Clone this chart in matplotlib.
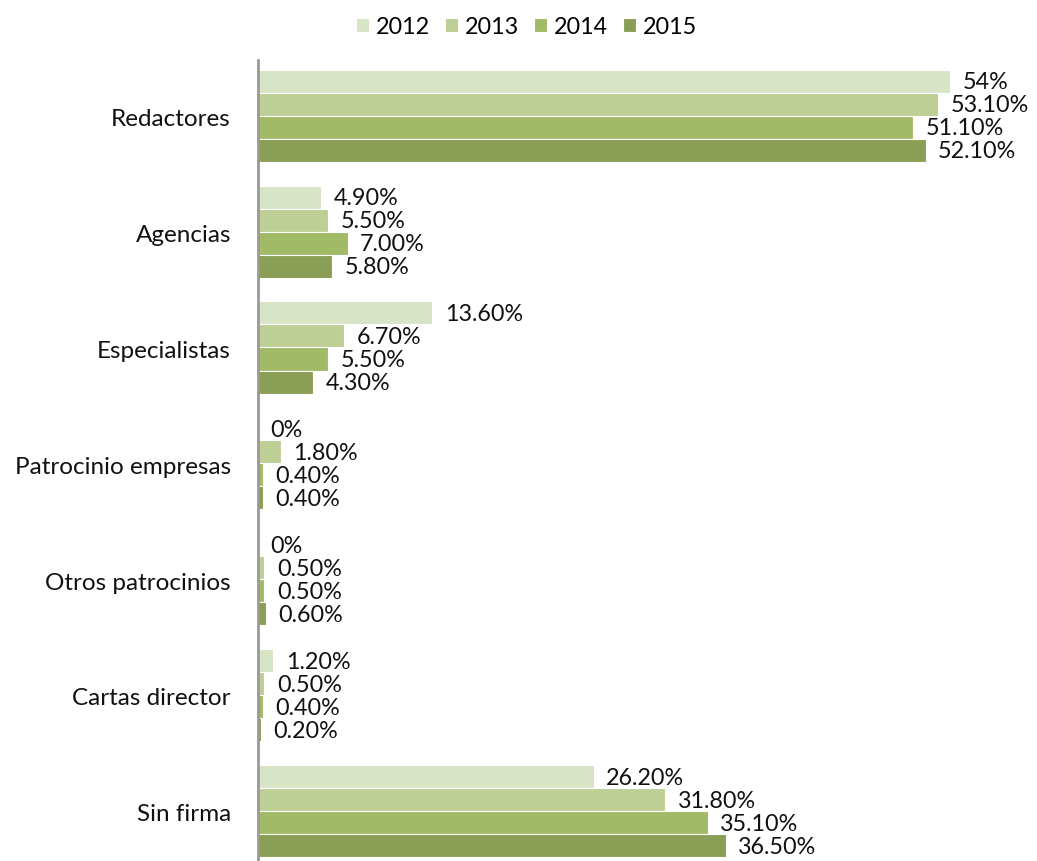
import numpy as np
from matplotlib import pyplot as plt

categories = ['Redactores', 'Agencias', 'Especialistas', 'Patrocinio empresas',
              'Otros patrocinios', 'Cartas director', 'Sin firma']
years = ['2012', '2013', '2014', '2015']

v2012 = [54, 4.9, 13.6, 0, 0, 1.2, 26.2]
v2013 = [53.1, 5.5, 6.7, 1.8, 0.5, 0.5, 31.8]
v2014 = [51.1, 7.0, 5.5, 0.4, 0.5, 0.4, 35.1]
v2015 = [52.1, 5.8, 4.3, 0.4, 0.6, 0.2, 36.5]

l2012 = ['54%', '4.90%', '13.60%', '0%', '0%', '1.20%', '26.20%']
l2013 = ['53.10%', '5.50%', '6.70%', '1.80%', '0.50%', '0.50%', '31.80%']
l2014 = ['51.10%', '7.00%', '5.50%', '0.40%', '0.50%', '0.40%', '35.10%']
l2015 = ['52.10%', '5.80%', '4.30%', '0.40%', '0.60%', '0.20%', '36.50%']

series = [v2012, v2013, v2014, v2015]
labels = [l2012, l2013, l2014, l2015]
colors = ['#D7E4C5', '#BDCF95', '#A1BA65', '#8A9F55']

plt.rcParams['font.family'] = ['Lato', 'DejaVu Sans']

fig = plt.figure(figsize=(10.37, 8.61), dpi=100)
ax = fig.add_axes([0.2488, 0.0, 0.7512, 0.9303])

y = np.arange(len(categories))
h = 0.1986
for i in range(4):
    pos = y + (i - 1.5) * h
    ax.barh(pos, series[i], height=h, color=colors[i], edgecolor='white',
            linewidth=0.8, label=years[i])
    for yy, v, t in zip(pos, series[i], labels[i]):
        ax.annotate(t, (v, yy), xytext=(9, -1), textcoords='offset points',
                    va='center', ha='left', fontsize=16.8, color='#111111')

ax.set_xlim(0, 60.8)
ax.set_ylim(6.43, -0.48)
ax.set_yticks(y + 0.015)
ax.set_yticklabels(categories, fontsize=17.5, color='#111111')
ax.tick_params(axis='y', length=0, pad=19.5)
ax.set_xticks([])
for s in ['top', 'right', 'bottom']:
    ax.spines[s].set_visible(False)
ax.spines['left'].set_color('#999999')
ax.spines['left'].set_linewidth(2)

fig.legend(loc='upper center', bbox_to_anchor=(0.508, 1.005), ncol=4, frameon=False,
           fontsize=16.8, handlelength=0.55, handleheight=0.55, handletextpad=0.3,
           columnspacing=0.65)

fig.savefig('out.png', dpi=100)
